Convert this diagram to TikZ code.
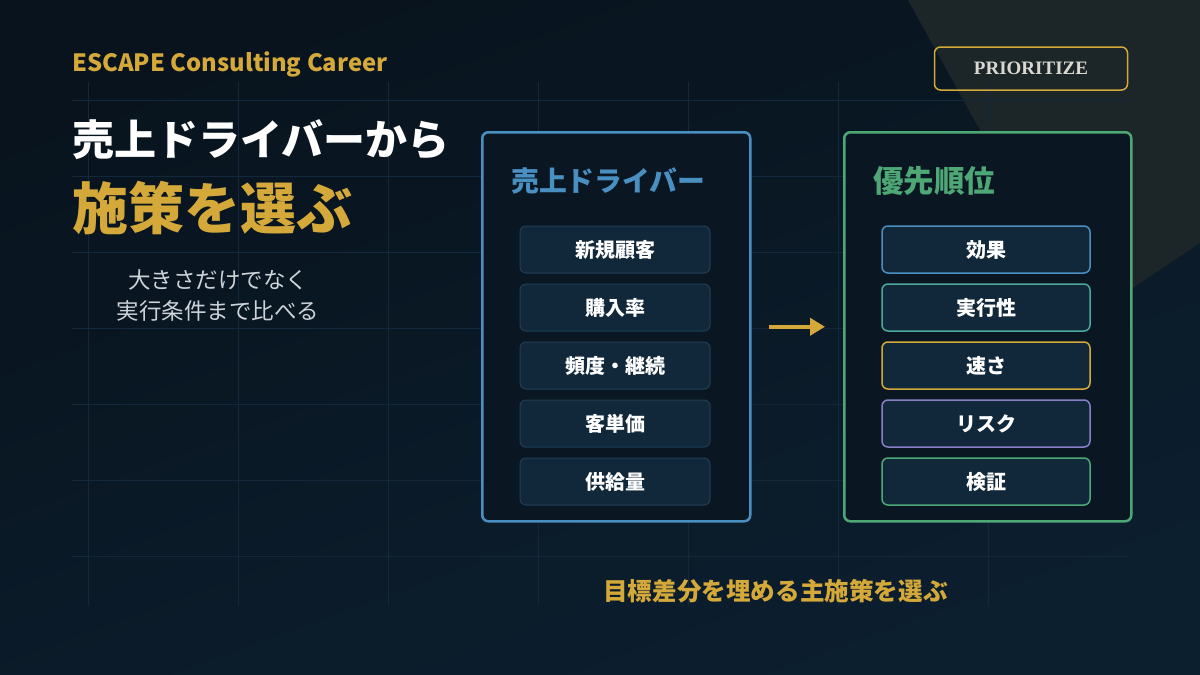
\documentclass[tikz,border=0pt]{standalone}
\usepackage{fontspec}
\setmainfont{Noto Sans CJK JP}
\newfontfamily\tagfont{Liberation Serif}
\usetikzlibrary{positioning,arrows.meta}

\definecolor{bgtop}{HTML}{08131D}
\definecolor{bgbot}{HTML}{0C1F2F}
\definecolor{tri}{HTML}{1C2528}
\definecolor{gridc}{HTML}{13283A}
\definecolor{panel}{HTML}{0A1722}
\definecolor{itemfill}{HTML}{11283B}
\definecolor{itemedge}{HTML}{1F3F58}
\definecolor{gold}{HTML}{D4A93A}
\definecolor{cblue}{HTML}{4A8FC2}
\definecolor{cgreen}{HTML}{4EA876}
\definecolor{cteal}{HTML}{4AA89C}
\definecolor{cpurple}{HTML}{8B7EC8}
\definecolor{subtext}{HTML}{CDD3D8}
\definecolor{tagtext}{HTML}{D9D9D2}

\begin{document}
\begin{tikzpicture}[x=1pt, y=-1pt, >={Triangle[length=15pt,width=17pt]},
	panelbox/.style={draw, line width=2.5pt, rounded corners=6pt, fill=panel, minimum height=389pt, inner sep=0pt, anchor=north west},
	item/.style={draw, line width=1.5pt, rounded corners=6pt, fill=itemfill, text=white, minimum height=47pt, inner sep=0pt, font=\fontsize{20}{24}\selectfont\bfseries},
	gridline/.style={draw=gridc, line width=1pt}]

\useasboundingbox (0,0) rectangle (1200,675);
\shade[top color=bgtop, bottom color=bgbot, shading angle=20] (0,0) rectangle (1200,675);
\fill[tri] (908,0) -- (1200,0) -- (1200,243) -- (1085,320) -- cycle;

\foreach \x in {88,238,...,988}
	\draw[gridline] (\x,82) -- (\x,606);
\foreach \y in {100,176,...,556}
	\draw[gridline] (72,\y) -- (1128,\y);

\node[anchor=base west, inner sep=0pt, text=gold, font=\fontsize{23.8}{28}\selectfont\bfseries] (brand) at (72,71) {ESCAPE Consulting Career};
\node[draw=gold, line width=1.5pt, rounded corners=6pt, minimum width=193pt, minimum height=43pt, text=tagtext, font=\tagfont\fontsize{19}{22}\selectfont\bfseries] (tag) at (1031,68.5) {PRIORITIZE};

\node[anchor=west, inner sep=0pt, text=white, font=\fontsize{42}{48}\selectfont\bfseries] (head) at (72,140) {売上ドライバーから};
\node[anchor=west, inner sep=0pt, text=gold, font=\fontsize{56}{64}\selectfont\bfseries] (sub) at (72,208) {施策を選ぶ};
\node[align=center, inner sep=0pt, text=subtext, font=\fontsize{22.5}{31}\selectfont] (note) at (218,295.5) {大きさだけでなく\\実行条件まで比べる};

\node[panelbox, draw=cblue, minimum width=268pt] (lbox) at (481,131) {};
\node[panelbox, draw=cgreen, minimum width=287pt] (rbox) at (843,131) {};
\node[anchor=west, inner sep=0pt, text=cblue, font=\fontsize{27.8}{32}\selectfont\bfseries] (ltitle) at (511,181) {売上ドライバー};
\node[anchor=west, inner sep=0pt, text=cgreen, font=\fontsize{30.5}{36}\selectfont\bfseries] (rtitle) at (873,181) {優先順位};

\foreach \t [count=\i] in {新規顧客, 購入率, 頻度・継続, 客単価, 供給量}
	\node[item, draw=itemedge, line width=1pt, minimum width=190pt] (d\i) at (615, 191.5+58*\i) {\t};
\foreach \t/\c [count=\i] in {効果/cblue, 実行性/cteal, 速さ/gold, リスク/cpurple, 検証/cgreen}
	\node[item, draw=\c, minimum width=208pt] (p\i) at (986, 191.5+58*\i) {\t};

\draw[->, gold, line width=4pt] ([xshift=17pt]lbox.east) -- ([xshift=-18pt]rbox.west);

\node[inner sep=0pt, text=gold, font=\fontsize{24.6}{28}\selectfont\bfseries] (goal) at (775.5,591) {目標差分を埋める主施策を選ぶ};

\end{tikzpicture}
\end{document}
